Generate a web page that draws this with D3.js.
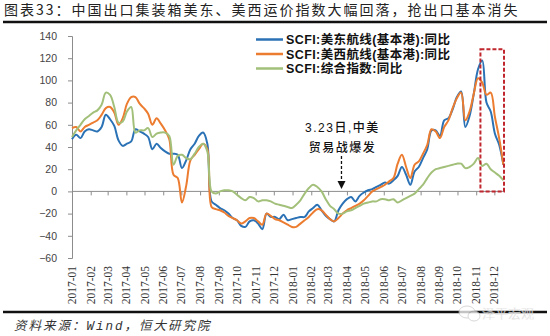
<!DOCTYPE html>
<html><head><meta charset="utf-8">
<script src="https://cdn.jsdelivr.net/npm/d3@7"></script>
<style>html,body{margin:0;padding:0;background:#fff;}svg{display:block;}</style>
</head><body>
<svg id="c" width="550" height="336"></svg>
<script>
// ---- data (weekly, starting 2017-01-01) ----
const startDate = "2017-01-01";
const seriesNames = ["SCFI:美东航线(基本港):同比", "SCFI:美西航线(基本港):同比", "SCFI:综合指数:同比"];
const usEast = [47,51,48,54,56,55,54,58,69,65,59,46,41,43,45,56,54,52,49,38,43,39,36,34,34,33,21,28,38,43,50,53,43,-9,-12,-15,-17,-20,-24,-26,-31,-32,-27,-26,-29,-34,-20,-23,-23,-25,-21,-26,-25,-24,-23,-23,-18,-15,-12,-17,-22,-25,-27,-17,-11,-7,-5,-9,-4,-1,1,2,4,6,8,7,10,14,22,15,6,18,22,30,38,55,55,50,64,66,74,85,90,58,68,88,110,118,80,72,52,42,24];
const usWest = [57,58,54,58,60,62,64,69,75,76,71,60,66,79,85,85,79,75,70,60,66,61,55,47,15,12,-10,5,28,33,38,43,38,-14,-16,-17,-19,-22,-24,-26,-29,-27,-24,-24,-27,-30,-20,-22,-25,-26,-28,-30,-32,-32,-29,-26,-23,-19,-16,-17,-21,-25,-27,-24,-20,-17,-15,-13,-11,-8,-4,0,2,4,6,9,12,25,33,22,12,24,27,34,42,56,54,48,58,64,75,84,89,64,72,88,102,98,87,89,67,48,24];
const composite = [49,55,60,65,68,71,73,78,89,87,76,62,63,72,76,53,55,55,57,49,52,53,53,50,24,32,33,30,29,34,40,43,36,0,-2,0,1,1,0,-3,-6,-8,-5,-6,-9,-8,-8,-9,-11,-12,-13,-14,-15,-12,-8,-2,3,6,4,0,-7,-13,-16,-20,-20,-18,-17,-15,-13,-11,-10,-9,-9,-7,-7,-8,-7,-10,-8,-6,-4,-2,2,6,12,17,20,21,22,23,24,25,25,21,22,25,30,23,25,20,17,14,10];
const monthLabels = ["2017-01","2017-02","2017-03","2017-04","2017-05","2017-06","2017-07","2017-08","2017-09","2017-10","2017-11","2017-12","2018-01","2018-02","2018-03","2018-04","2018-05","2018-06","2018-07","2018-08","2018-09","2018-10","2018-11","2018-12"];
const yTicks = [-60,-40,-20,0,20,40,60,80,100,120,140];
const annotationDate = "2018-03-23";
const annotationText = ["3.23日,中美", "贸易战爆发"];
const highlightRange = ["2018-11-08", "2018-12-17"];
const highlightValues = [0, 128];
const titleText = "图表33：中国出口集装箱美东、美西运价指数大幅回落，抢出口基本消失";
const colors = ["#2a72b5", "#ec7c30", "#a3c07a"];

// ---- build ----
const parse = d3.timeParse("%Y-%m-%d");
const parseM = d3.timeParse("%Y-%m");
const t0 = parse(startDate);
const dates = usEast.map((_, i) => d3.timeDay.offset(t0, 7 * i));
const svg = d3.select("#c");

const x = d3.scaleTime().domain([parse("2017-01-01"), parse("2018-12-17")]).range([72, 504]);
const y = d3.scaleLinear().domain([-60, 140]).range([258, 36]);

// title
svg.append("text").attr("x", 4).attr("y", 15)
  .attr("font-family", "'Noto Sans CJK SC', sans-serif").attr("font-size", 14)
  .attr("letter-spacing", 2).attr("fill", "#222").text(titleText);
svg.append("line").attr("x1", 3).attr("x2", 547).attr("y1", 22).attr("y2", 22)
  .attr("stroke", "#111").attr("stroke-width", 2.5);

// y axis
const yAxis = svg.append("g").attr("transform", "translate(72,0)")
  .call(d3.axisLeft(y).tickValues(yTicks).tickSize(4).tickPadding(11).tickFormat(d3.format("d")));
yAxis.select(".domain").attr("stroke", "#8c8c8c");
yAxis.selectAll(".tick line").attr("stroke", "#8c8c8c");
yAxis.selectAll("text").attr("font-family", "'Liberation Sans', Arial, sans-serif").attr("font-size", 10.5).attr("fill", "#444");

// x axis at zero
const monthDates = monthLabels.map(m => parseM(m));
const xAxis = svg.append("g").attr("transform", `translate(0,${y(0)})`)
  .call(d3.axisBottom(x).tickValues(monthDates).tickSize(4).tickFormat(""));
xAxis.select(".domain").attr("stroke", "#8c8c8c").attr("d", `M72,0H504`);
xAxis.selectAll(".tick line").attr("stroke", "#8c8c8c");

// x labels at bottom
svg.append("g").selectAll("text").data(monthLabels).join("text")
  .attr("transform", (d, i) => `translate(${x(monthDates[i]) + 4},266) rotate(-90)`)
  .attr("text-anchor", "end")
  .attr("font-family", "'Liberation Serif', 'Times New Roman', serif").attr("font-size", 11.5)
  .attr("fill", "#333").text(d => d);

// lines
const line = d3.line().x((d, i) => x(dates[i])).y(d => y(d)).curve(d3.curveCatmullRom.alpha(0.5));
[usEast, usWest, composite].forEach((s, k) => {
  svg.append("path").datum(s).attr("d", line).attr("fill", "none")
    .attr("stroke", colors[k]).attr("stroke-width", 2).attr("stroke-linejoin", "round");
});

// highlight box
svg.append("rect")
  .attr("x", x(parse(highlightRange[0]))).attr("y", y(highlightValues[1]))
  .attr("width", x(parse(highlightRange[1])) - x(parse(highlightRange[0])))
  .attr("height", y(highlightValues[0]) - y(highlightValues[1]))
  .attr("fill", "none").attr("stroke", "#c0262d").attr("stroke-width", 2).attr("stroke-dasharray", "4,2");

// annotation
const ax = x(parse(annotationDate));
annotationText.forEach((t, i) => {
  svg.append("text").attr("x", ax + 1).attr("y", 132 + i * 20).attr("text-anchor", "middle")
    .attr("font-family", "'Liberation Sans', 'Noto Sans CJK SC', sans-serif").attr("font-size", 12).attr("font-weight", 500)
    .attr("letter-spacing", 1.5).attr("fill", "#111").text(t);
});
svg.append("line").attr("x1", ax).attr("x2", ax).attr("y1", 156).attr("y2", 181)
  .attr("stroke", "#111").attr("stroke-width", 1.3).attr("stroke-dasharray", "3,2");
svg.append("path").attr("d", `M${ax - 4},181L${ax + 4},181L${ax},189Z`).attr("fill", "#111");

// legend
const lg = svg.append("g");
seriesNames.forEach((n, i) => {
  const ly = 39.5 + i * 14.5;
  lg.append("line").attr("x1", 256).attr("x2", 283).attr("y1", ly).attr("y2", ly)
    .attr("stroke", colors[i]).attr("stroke-width", 2.5);
  lg.append("text").attr("x", 286).attr("y", ly + 4.5)
    .attr("font-family", "'Liberation Sans', 'Noto Sans CJK SC', sans-serif").attr("font-size", 12.5).attr("font-weight", 700)
    .attr("letter-spacing", 0.4).attr("fill", "#111").text(n);
});

// bottom rule, source, watermark
svg.append("line").attr("x1", 3).attr("x2", 547).attr("y1", 312).attr("y2", 312)
  .attr("stroke", "#111").attr("stroke-width", 2.5);
const src = svg.append("text").attr("x", 14).attr("y", 330)
  .attr("font-family", "'Noto Sans CJK SC', sans-serif").attr("font-size", 12.5).attr("font-style", "italic")
  .attr("letter-spacing", 2).attr("fill", "#333");
src.append("tspan").text("资料来源：");
src.append("tspan").attr("font-family", "'Liberation Mono', monospace").text("Wind");
src.append("tspan").text("，恒大研究院");
const wm = svg.append("g").attr("opacity", 0.75);
wm.append("ellipse").attr("cx", 467).attr("cy", 312).attr("rx", 8).attr("ry", 6).attr("fill", "#fff").attr("stroke", "#ccc");
wm.append("ellipse").attr("cx", 474).attr("cy", 316).attr("rx", 6).attr("ry", 5).attr("fill", "#fff").attr("stroke", "#ccc");
wm.append("text").attr("x", 482).attr("y", 318).attr("font-family", "'Noto Sans CJK SC', sans-serif")
  .attr("font-size", 13).attr("fill", "#c8c8c8").attr("stroke", "#fff").attr("stroke-width", 0.3).text("泽平宏观");
</script>
</body></html>
